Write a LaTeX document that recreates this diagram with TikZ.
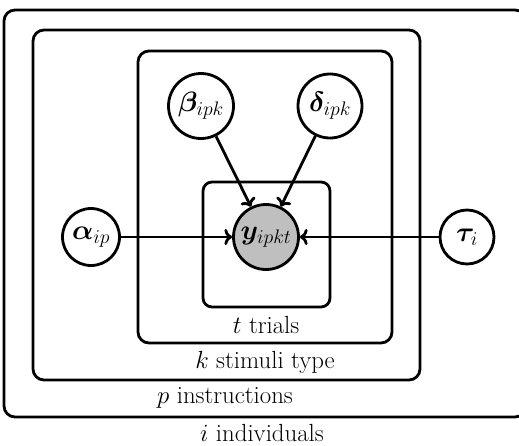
\RequirePackage{fix-cm}
\documentclass[tikz,border=0pt]{standalone}
\usepackage{bm}
\usetikzlibrary{arrows.meta}
\begin{document}
\begin{tikzpicture}[x=1pt,y=-1pt,
  plate/.style={draw,line width=2.8pt,rounded corners=11pt},
  var/.style={circle,draw,line width=2.8pt,fill=white,inner sep=0pt,font=\fontsize{28}{32}\selectfont},
  obs/.style={var,fill=black!25},
  lab/.style={font=\fontsize{24.8}{29}\selectfont,inner sep=0pt},
  edge/.style={line width=2.8pt,->}]
\useasboundingbox (0,0) rectangle (519,445);
\draw[plate] (4,10) rectangle (526,417);
\draw[plate] (33,30) rectangle (420,380);
\draw[plate] (138,51) rectangle (392,343);
\draw[plate,rounded corners=9pt] (203,182) rectangle (330,307);
\node[lab] (li) at (262,433) {$i$ individuals};
\node[lab] (lp) at (225,398) {$p$ instructions};
\node[lab] (lk) at (265,362) {$k$ stimuli type};
\node[lab] (lt) at (266,325) {$t$ trials};
\node[obs,minimum size=65pt] (y) at (266,237) {$\bm{y}_{ipkt}$};
\node[var,minimum size=65pt] (b) at (201,106) {$\bm{\beta}_{ipk}$};
\node[var,minimum size=64pt] (d) at (330,106) {$\bm{\delta}_{ipk}$};
\node[var,minimum size=57pt] (a) at (91,237) {$\bm{\alpha}_{ip}$};
\node[var,minimum size=54pt] (t) at (467,237) {$\bm{\tau}_{i}$};
\draw[edge] (b) -- (y);
\draw[edge] (d) -- (y);
\draw[edge] (a) -- (y);
\draw[edge] (t) -- (y);
\end{tikzpicture}
\end{document}
